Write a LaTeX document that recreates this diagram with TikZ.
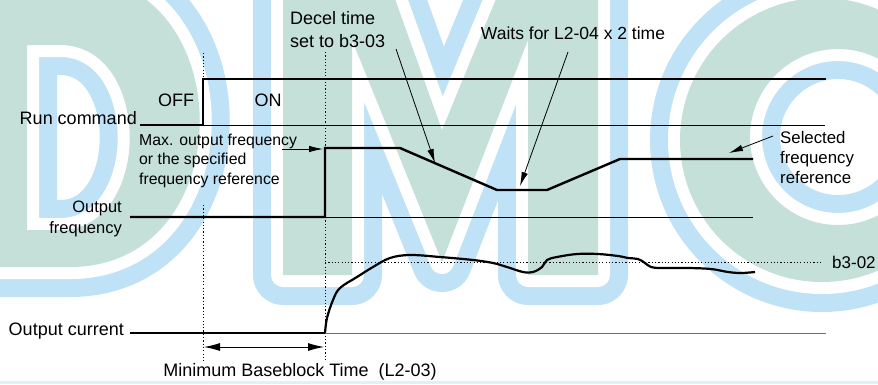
\documentclass[tikz,border=0pt]{standalone}
\usepackage{fontspec}
\setmainfont{Liberation Sans}
\usetikzlibrary{arrows.meta}
\definecolor{wmteal}{RGB}{197, 224, 216}
\definecolor{wmblue}{RGB}{192, 226, 246}
\definecolor{curgray}{RGB}{110, 110, 110}

% one watermark letter: halo, gap, body
\newcommand{\wmletter}[1]{%
  \draw[wmblue, line width=60pt, line join=round] #1;
  \draw[white, line width=24pt, line join=round] #1;
  \fill[wmteal, even odd rule] #1;}

\tikzset{
  signal/.style={line width=2.4pt},
  refline/.style={line width=0.9pt},
  guide/.style={line width=0.9pt, dash pattern=on 1.2pt off 2.1pt},
  note/.style={line width=0.8pt, -{Latex[length=14pt, width=6.5pt]}},
  lbl/.style={inner sep=0pt, font=\fontsize{18}{23}\selectfont},
}

\begin{document}
\begin{tikzpicture}[x=1pt, y=-1pt]
    \useasboundingbox (0,0) rectangle (878,384);

    % Watermark
    \begin{scope}
    \clip (0,0) rectangle (878,384);
    \wmletter{(-40,-25) -- (70,-25) .. controls (243,-25) and (243,267) .. (70,267) -- (-40,267) -- cycle
      (27,45) -- (60,45) .. controls (153,45) and (153,230) .. (60,230) -- (27,230) -- cycle}
    \wmletter{(283,-40) -- (381,-40) -- (442,130) -- (512,-40) -- (598,-40) -- (598,275) -- (528,275)
      -- (528,40) -- (442,262) -- (352,40) -- (352,275) -- (283,275) -- cycle}
    \wmletter{(822,140) circle[radius=142] (838,137) circle[radius=88]}
    \fill[wmblue!50] (0,381) rectangle (878,384);
    \end{scope}

    % Guides
    \draw[guide] (203,53) -- (203,79);
    \draw[guide] (203,205) -- (203,362);
    \draw[guide] (325,52) -- (325,362);
    \draw[guide] (325,262) -- (822,262);

    % Run command
    \draw[refline] (203,125) -- (825,125);
    \draw[signal] (140,125) -- (203,125) -- (203,79) -- (826,79);

    % Output frequency
    \draw[refline] (325,217) -- (753,217);
    \draw[signal] (130,217) -- (325,217) -- (325,148) -- (400,148) -- (497,190)
        -- (547,190) -- (620,159) -- (753,159);

    % Output current
    \draw[refline, curgray] (325,333) -- (826,333);
    \draw[signal] (130,333) -- (325,333);
    \draw[signal, line width=2.2pt] plot[smooth, tension=0.6] coordinates {
        (325,333) (327,318) (333,300) (340,288) (357,277) (373,267) (390,258)
        (410,255) (440,257) (473,260) (493,263) (507,267) (523,272) (533,272)
        (542,267) (547,260) (557,257) (577,254) (598,254) (618,256) (628,258)
        (638,259) (645,263) (651,267) (661,268) (688,268) (711,269) (728,272)
        (741,273) (755,272)};

    % Labels
    \node[lbl, anchor=east] (run) at (137,118) {Run command};
    \node[lbl] (off) at (176,100) {OFF};
    \node[lbl] (on) at (268,100) {ON};
    \node[lbl, anchor=west, align=left, font=\fontsize{15.8}{19.5}\selectfont] (fmaxlbl)
        at (139,160.5) {Max. output frequency\\or the specified\\frequency reference};
    \node[lbl, anchor=east, align=right, font=\fontsize{16.5}{21}\selectfont] (freq)
        at (122,218.5) {Output\\frequency};
    \node[lbl, anchor=east] (cur) at (124,331) {Output current};
    \node[lbl, anchor=west, align=left] (decel) at (290,29.5) {Decel time\\set to b3-03};
    \node[lbl, font=\fontsize{17.5}{21}\selectfont] (wait) at (573,33) {Waits for L2-04 x 2 time};
    \node[lbl, anchor=west, align=left, font=\fontsize{16.8}{20}\selectfont] (sel)
        at (780,157) {Selected\\frequency\\reference};
    \node[lbl, anchor=west, font=\fontsize{17}{20}\selectfont] (b302) at (832,262) {b3-02};
    \node[lbl] (mbb) at (300,372) {Minimum Baseblock Time\ \ (L2-03)};

    % Arrows
    \coordinate (fmaxtail) at (282,149);
    \coordinate (fmax) at (323,149);
    \coordinate (deceltail) at (396,49);
    \coordinate (decelhead) at (435,163);
    \coordinate (waittail) at (568,52);
    \coordinate (waithead) at (520,186);
    \coordinate (seltail) at (773,136);
    \coordinate (selhead) at (729,153);
    \coordinate (bbleft) at (204,347);
    \coordinate (bbright) at (324,347);
    \draw[note] (fmaxtail) -- (fmax);
    \draw[note] (deceltail) -- (decelhead);
    \draw[note] (waittail) -- (waithead);
    \draw[note] (seltail) -- (selhead);
    \draw[line width=0.9pt, {Latex[length=16pt, width=8pt]}-{Latex[length=16pt, width=8pt]}] (bbleft) -- (bbright);
\end{tikzpicture}
\end{document}
